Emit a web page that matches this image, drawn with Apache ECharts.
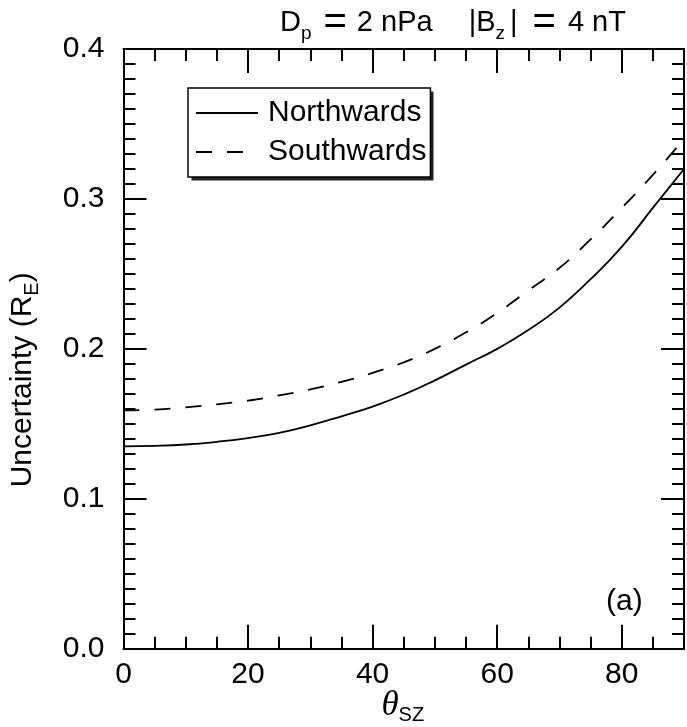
<!DOCTYPE html>
<html><head><meta charset="utf-8">
<script src="https://cdn.jsdelivr.net/npm/echarts@6/dist/echarts.min.js"></script>
<style>html,body{margin:0;padding:0;background:#fff}#c{width:687px;height:727px}</style>
</head><body><div id="c"></div>
<script>
// ---- data ----
const theta = [0, 5, 10, 15, 20, 25, 30, 35, 40, 45, 50, 55, 60, 65, 70, 75, 80, 85, 90];
const northwards = [0.135, 0.1353, 0.1362, 0.138, 0.1405, 0.144, 0.149, 0.155, 0.1615, 0.1695, 0.179, 0.1895, 0.2, 0.2125, 0.2275, 0.2465, 0.268, 0.294, 0.32];
const southwards = [0.159, 0.1595, 0.161, 0.163, 0.1655, 0.169, 0.173, 0.178, 0.184, 0.191, 0.2, 0.211, 0.224, 0.239, 0.254, 0.273, 0.294, 0.316, 0.34];
const seriesNames = ['Northwards', 'Southwards'];
const titleText = '{n|D}{s|p}{e1|=}{n|2 nPa}{v||B}{s|z}{w||}{e2|=}{n|4 nT}';
const panelLabel = '(a)';
const yName = 'Uncertainty (R{s|E})';
const xName = '{t|θ}{s|SZ}';

const FONT = "'Liberation Sans', Arial, Helvetica, sans-serif";
const chart = echarts.init(document.getElementById('c'), null, {renderer: 'canvas'});

function xAxisDef(position, interval, tickLen, showLabel, showLine) {
  return {
    type: 'value', position: position, min: 0, max: 90, interval: interval,
    axisLine: {show: showLine, onZero: false, lineStyle: {color: '#000', width: 2}},
    axisTick: {show: true, inside: true, length: tickLen, lineStyle: {color: '#000', width: 2}},
    axisLabel: {show: showLabel, showMaxLabel: false, color: '#000', fontFamily: FONT, fontSize: 30, margin: 11},
    splitLine: {show: false}
  };
}
function yAxisDef(position, showLabel) {
  return {
    type: 'value', position: position, min: 0, max: 0.4, interval: 0.1,
    axisLine: {show: true, onZero: false, lineStyle: {color: '#000', width: 2}},
    axisTick: {show: true, inside: true, length: 23, lineStyle: {color: '#000', width: 2}},
    minorTick: {show: true, splitNumber: 10, length: 12, lineStyle: {color: '#000', width: 2}},
    axisLabel: {show: showLabel, color: '#000', fontFamily: FONT, fontSize: 30, margin: 19,
      formatter: v => v.toFixed(1)},
    splitLine: {show: false}, minorSplitLine: {show: false}
  };
}

const xAxes = [
  xAxisDef('bottom', 20, 24, true, true),
  xAxisDef('bottom', 5, 12, false, false),
  xAxisDef('top', 20, 24, false, true),
  xAxisDef('top', 5, 12, false, false)
];
xAxes[0].name = xName;
xAxes[0].nameLocation = 'middle';
xAxes[0].nameGap = 37;
xAxes[0].nameMoveOverlap = false;
xAxes[0].nameTextStyle = {
  color: '#000', fontFamily: FONT, fontSize: 28, lineHeight: 40, padding: [0, 2, 0, 0],
  rich: {
    t: {fontFamily: "'Liberation Serif', 'DejaVu Serif', serif", fontStyle: 'italic', fontSize: 35, color: '#000'},
    s: {fontFamily: FONT, fontSize: 20, verticalAlign: 'bottom', lineHeight: 10, color: '#000'}
  }
};

const yAxes = [yAxisDef('left', true), yAxisDef('right', false)];
yAxes[0].name = yName;
yAxes[0].nameLocation = 'middle';
yAxes[0].nameRotate = 90;
yAxes[0].nameGap = 81;
yAxes[0].nameMoveOverlap = false;
yAxes[0].nameTextStyle = {
  color: '#000', fontFamily: FONT, fontSize: 30, lineHeight: 40, padding: [0, 62, 0, 0],
  rich: {s: {fontFamily: FONT, fontSize: 20, verticalAlign: 'bottom', lineHeight: 16, color: '#000'}}
};

const subStyle = {fontFamily: FONT, fontSize: 19, verticalAlign: 'bottom', lineHeight: 16, color: '#000'};
chart.setOption({
  backgroundColor: '#fff',
  animation: false,
  title: [
    {text: titleText, left: 280, top: 3, padding: 0,
      textStyle: {fontFamily: FONT, fontSize: 29, fontWeight: 'normal', color: '#000', lineHeight: 40,
        rich: {
          n: {fontFamily: FONT, fontSize: 29, color: '#000'},
          s: subStyle,
          e1: {fontFamily: FONT, fontSize: 40, color: '#000', padding: [0, 10, 0, 12]},
          e2: {fontFamily: FONT, fontSize: 40, color: '#000', padding: [0, 12, 0, 15]},
          v: {fontFamily: FONT, fontSize: 29, color: '#000', padding: [0, 0, 0, 36]},
          w: {fontFamily: FONT, fontSize: 29, color: '#000', padding: [0, 0, 0, 5]}
        }}},
    {text: panelLabel, left: 606, top: 587, padding: 0,
      textStyle: {fontFamily: FONT, fontSize: 30, fontWeight: 'normal', color: '#000'}}
  ],
  graphic: [
    {type: 'rect', z: 1, silent: true, shape: {x: 191.5, y: 91.5, width: 242, height: 89},
      style: {fill: '#222'}}
  ],
  grid: {left: 123.5, right: 3, top: 49, bottom: 78.3, containLabel: false, outerBoundsMode: 'none'},
  legend: {
    orient: 'vertical', left: 188, top: 88, z: 5,
    itemWidth: 62, itemHeight: 20, itemGap: 9,
    padding: [10, 4, 10, 7],
    backgroundColor: '#fff', borderColor: '#000', borderWidth: 1.5,
    itemStyle: {opacity: 0},
    textStyle: {fontFamily: FONT, fontSize: 30, color: '#000', padding: [0, 0, 0, 5]},
    data: seriesNames
  },
  xAxis: xAxes,
  yAxis: yAxes,
  series: [
    {name: seriesNames[0], type: 'line', xAxisIndex: 0, yAxisIndex: 0, symbol: 'none', smooth: true,
      lineStyle: {color: '#000', width: 1.8, type: 'solid'},
      data: theta.map((t, i) => [t, northwards[i]])},
    {name: seriesNames[1], type: 'line', xAxisIndex: 0, yAxisIndex: 0, symbol: 'none', smooth: true,
      lineStyle: {color: '#000', width: 1.8, type: [16, 15]},
      data: theta.map((t, i) => [t, southwards[i]])}
  ]
});
</script>
</body></html>
